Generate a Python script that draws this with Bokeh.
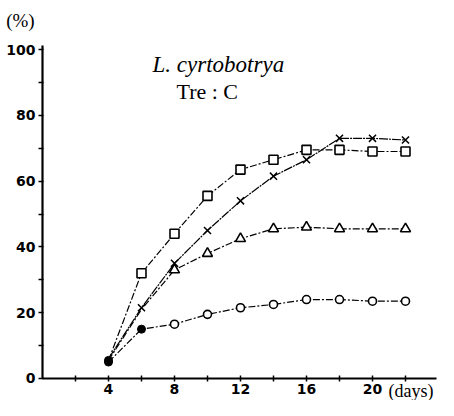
from bokeh.plotting import figure
from bokeh.models import Label, Range1d, FixedTicker, LinearAxis
from bokeh.embed import file_html
from bokeh.resources import INLINE

days = [4, 6, 8, 10, 12, 14, 16, 18, 20, 22]
square_vals = [5.5, 32, 44, 55.5, 63.5, 66.5, 69.5, 69.5, 69, 69]
cross_vals = [6, 21.5, 35, 45, 54, 61.5, 66.5, 73, 73, 72.5]
triangle_vals = [5.5, 21, 33, 38, 42.5, 45.5, 46, 45.5, 45.5, 45.5]
circle_vals = [5, 15, 16.5, 19.5, 21.5, 22.5, 24, 24, 23.5, 23.5]

x_major = [4, 8, 12, 16, 20]
x_minor = [2, 6, 10, 14, 18, 22]
y_major = [0, 20, 40, 60, 80, 100]
y_minor = [10, 30, 50, 70, 90]

p = figure(width=438, height=400, output_backend="svg", toolbar_location=None,
           x_range=Range1d(-2.545, 24.0), y_range=Range1d(-6.69, 114.9),
           x_axis_type=None, y_axis_type=None,
           min_border_left=0, min_border_right=0, min_border_top=0, min_border_bottom=0)
p.grid.visible = False
p.outline_line_color = None

xax = LinearAxis(fixed_location=0, bounds=(0, 23.9),
                 ticker=FixedTicker(ticks=x_major, minor_ticks=x_minor))
yax = LinearAxis(fixed_location=0, bounds=(0, 101.2),
                 ticker=FixedTicker(ticks=y_major, minor_ticks=y_minor))

for ax in (xax, yax):
    ax.axis_line_width = 2.2
    ax.axis_line_color = "black"
    ax.major_tick_line_width = 1.5
    ax.minor_tick_line_width = 1.5
    ax.major_label_text_font = "DejaVu Sans"
    ax.major_label_text_font_style = "bold"
    ax.major_label_text_color = "black"

xax.major_tick_in = 3
xax.major_tick_out = 3
xax.minor_tick_in = 3
xax.minor_tick_out = 3
xax.major_label_standoff = 3
xax.major_label_text_font_size = "14px"

yax.major_tick_in = 1
yax.major_tick_out = 4
yax.minor_tick_in = 1
yax.minor_tick_out = 4
yax.major_label_standoff = 3
yax.major_label_text_font_size = "14px"

p.add_layout(xax, "below")
p.add_layout(yax, "left")

dash = "7 2 2 2"
p.line(days, square_vals, line_color="black", line_width=1.2, line_dash=dash)
p.line(days, cross_vals, line_color="black", line_width=1.2, line_dash="9 1 2 1")
p.line(days, triangle_vals, line_color="black", line_width=1.2, line_dash=dash)
p.line(days, circle_vals, line_color="black", line_width=1.2, line_dash=dash)

p.scatter(days[1:], square_vals[1:], marker="square", size=9, fill_color="white",
          line_color="black", line_width=1.6)
p.scatter(days[1:], cross_vals[1:], marker="x", size=10, line_color="black", line_width=1.5)
p.scatter(days[2:], triangle_vals[2:], marker="triangle", size=10, fill_color="white",
          line_color="black", line_width=1.6)
p.scatter(days[2:], circle_vals[2:], marker="circle", size=8, fill_color="white",
          line_color="black", line_width=1.6)
p.scatter(days[:2], circle_vals[:2], marker="circle", size=8, fill_color="black",
          line_color="black")
p.scatter(days[:1], square_vals[:1], marker="circle", size=8, fill_color="black",
          line_color="black")

p.add_layout(Label(x=6.67, y=95.4, text="L. cyrtobotrya", text_font="Liberation Serif",
                   text_font_style="italic", text_font_size="23px", text_color="black",
                   text_align="left", text_baseline="middle"))
p.add_layout(Label(x=8.12, y=87.2, text="Tre : C", text_font="Liberation Serif",
                   text_font_size="22px", text_color="black",
                   text_align="left", text_baseline="middle"))
p.add_layout(Label(x=-2.2, y=108.8, text="(%)", text_font="Liberation Serif",
                   text_font_size="19px", text_color="black",
                   text_align="left", text_baseline="middle"))
p.add_layout(Label(x=20.97, y=-3.8, text="(days)", text_font="Liberation Serif",
                   text_font_size="18px", text_color="black",
                   text_align="left", text_baseline="middle"))

open("out.html", "w").write(file_html(p, INLINE))
